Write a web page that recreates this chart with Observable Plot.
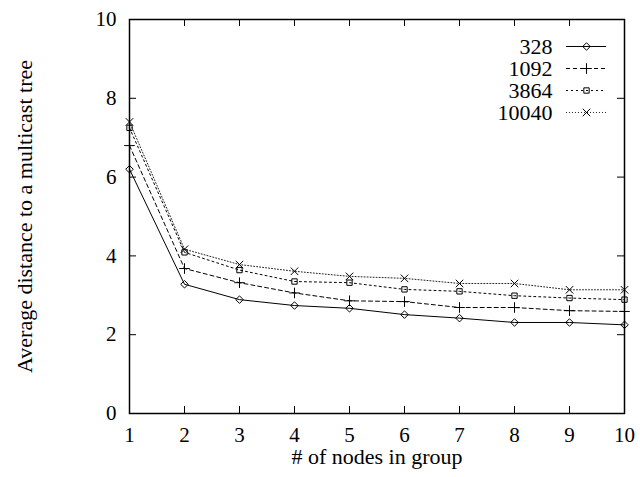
<!DOCTYPE html>
<html><head><meta charset="utf-8">
<script src="https://cdn.jsdelivr.net/npm/d3@7"></script>
<script src="https://cdn.jsdelivr.net/npm/@observablehq/plot@0.6"></script>
<style>body{margin:0;background:#fff} #chart svg{display:block} #chart svg text{font-family:'Liberation Serif','Times New Roman',serif !important;font-variant:normal !important;font-variant-numeric:normal !important}</style>
</head><body><div id="chart"></div>
<script>
const groupSizes = [1, 2, 3, 4, 5, 6, 7, 8, 9, 10];
const seriesNames = ["328", "1092", "3864", "10040"];
const values328 = [6.2, 3.28, 2.89, 2.74, 2.67, 2.51, 2.42, 2.31, 2.31, 2.25];
const values1092 = [6.8, 3.68, 3.32, 3.06, 2.86, 2.84, 2.69, 2.69, 2.61, 2.59];
const values3864 = [7.25, 4.09, 3.64, 3.35, 3.32, 3.15, 3.1, 2.99, 2.93, 2.89];
const values10040 = [7.4, 4.17, 3.78, 3.61, 3.48, 3.43, 3.3, 3.3, 3.14, 3.14];
const yTickValues = [0, 2, 4, 6, 8, 10];
const xTickValues = [1, 2, 3, 4, 5, 6, 7, 8, 9, 10];
const xLabel = "# of nodes in group";
const yLabel = "Average distance to a multicast tree";

const allValues = [values328, values1092, values3864, values10040];
const styles = [
  {symbol: "diamond2", dash: null, stroke: "#000", r: 3.4},
  {symbol: "plus", dash: "4,3", stroke: "#000", r: 3.5},
  {symbol: "square2", dash: "2,3", stroke: "#000", r: 3.4},
  {symbol: "times", dash: "1,2", stroke: "#222", r: 3.5}
];
const data = seriesNames.flatMap((name, i) => groupSizes.map((x, j) => ({series: name, x, y: allValues[i][j]})));

// legend placement (in data units of the plot's scales)
const legendTextX = 8.69, legendLineX1 = 8.945, legendLineX2 = 9.673, legendMarkX = 9.309;
const legendRowY = [9.315, 8.756, 8.198, 7.64];

const W = 640, H = 477, mL = 129, mR = 16, mT = 19, mB = 64;
const fw = W - mL - mR, fh = H - mT - mB, tickLen = 7;
const FS = 21, LFS = 22;
const FF = "'Liberation Serif', 'Times New Roman', serif";

const marks = [
  Plot.tickY(yTickValues, {y: d => d, insetRight: fw - tickLen, stroke: "#000"}),
  Plot.tickY(yTickValues, {y: d => d, insetLeft: fw - tickLen, stroke: "#000"}),
  Plot.tickX(xTickValues, {x: d => d, insetTop: fh - tickLen, stroke: "#000"}),
  Plot.tickX(xTickValues, {x: d => d, insetBottom: fh - tickLen, stroke: "#000"}),
  Plot.axisY(yTickValues, {tickSize: 0, tickPadding: 13, label: null, fontSize: FS, fontFamily: FF, fontVariant: "normal", tickFormat: d => String(d)}),
  Plot.axisX(xTickValues, {tickSize: 0, tickPadding: 14, label: null, fontSize: FS, fontFamily: FF, fontVariant: "normal", tickFormat: d => String(d)}),
  Plot.text([xLabel], {frameAnchor: "bottom", dy: 50, text: d => d, fontSize: LFS, fontFamily: FF, fill: "#000"}),
  Plot.text([yLabel], {frameAnchor: "left", dx: -105, rotate: -90, textAnchor: "middle", text: d => d, fontSize: LFS, fontFamily: FF, fill: "#000"})
];

seriesNames.forEach((name, i) => {
  const st = styles[i];
  const rows = data.filter(d => d.series === name);
  marks.push(Plot.line(rows, {x: "x", y: "y", stroke: st.stroke, strokeWidth: 1, strokeDasharray: st.dash}));
  marks.push(Plot.dot(rows, {x: "x", y: "y", symbol: () => st.symbol, r: st.r, stroke: "#000", fill: "none", strokeWidth: 1}));
  // legend
  marks.push(Plot.text([name], {x: legendTextX, y: legendRowY[i], text: d => d, textAnchor: "end", fontSize: LFS, fontFamily: FF, fontVariant: "normal", fill: "#000"}));
  marks.push(Plot.ruleY([legendRowY[i]], {x1: legendLineX1, x2: legendLineX2, stroke: st.stroke, strokeWidth: 1, strokeDasharray: st.dash}));
  marks.push(Plot.dot([legendRowY[i]], {x: legendMarkX, y: d => d, symbol: () => st.symbol, r: st.r, stroke: "#000", fill: "none", strokeWidth: 1}));
});

marks.push(Plot.frame({stroke: "#000", strokeWidth: 1.5}));

const chart = Plot.plot({
  width: W, height: H,
  marginLeft: mL, marginRight: mR, marginTop: mT, marginBottom: mB,
  x: {domain: [1, 10], type: "linear"},
  y: {domain: [0, 10], type: "linear"},
  symbol: {type: "identity"},
  style: {fontFamily: FF, fontSize: FS + "px", color: "#000", background: "#fff"},
  marks
});
document.getElementById("chart").appendChild(chart);
</script>
</body></html>
